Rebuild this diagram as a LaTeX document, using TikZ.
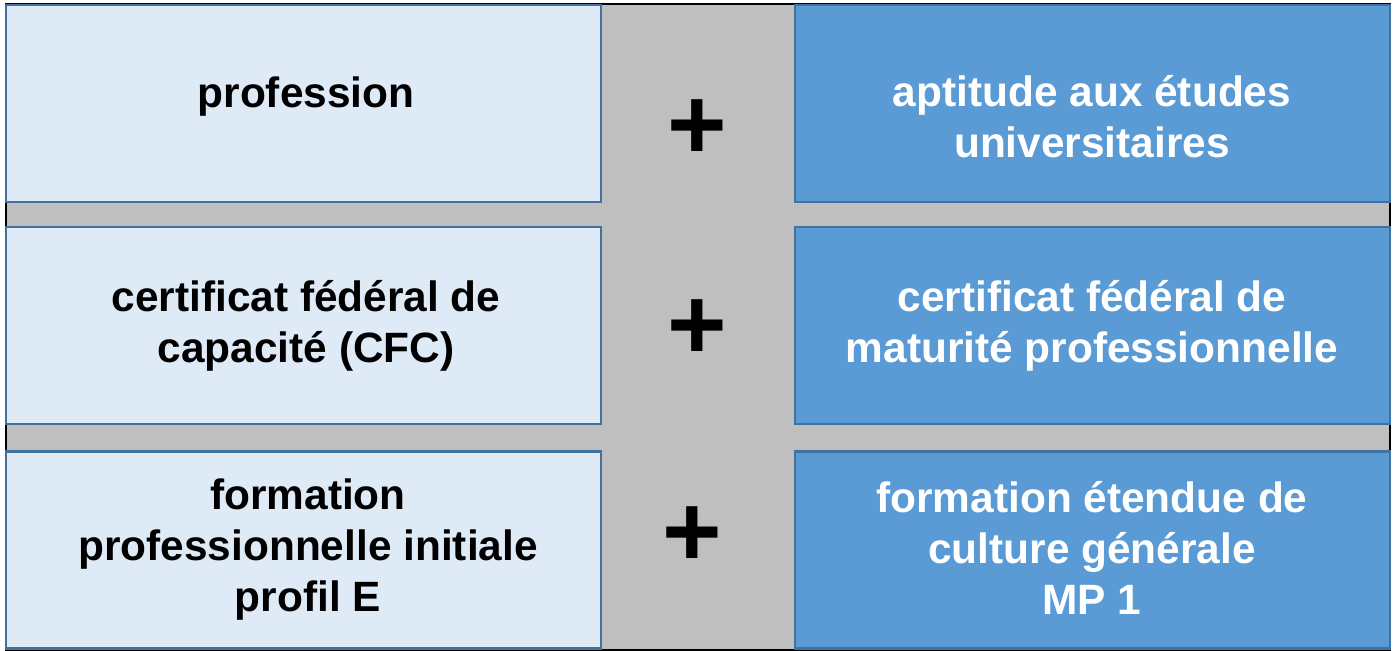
\documentclass[tikz,border=0pt]{standalone}
\usepackage{xcolor}
\usepackage{fontspec}
\setmainfont{Liberation Sans}

\definecolor{paleblue}{HTML}{DEEBF7}
\definecolor{midblue}{HTML}{5B9BD5}
\definecolor{edgeblue}{HTML}{41719C}
\definecolor{backgrey}{HTML}{BFBFBF}

\begin{document}
\begin{tikzpicture}[x=0.5pt,y=0.5pt,
    box/.style={rectangle,draw=edgeblue,line width=1.2pt,inner sep=0pt,outer sep=0pt,
                minimum width=297.5pt,minimum height=98.5pt},
    lbox/.style={box,fill=paleblue},
    rbox/.style={box,fill=midblue},
    word/.style={align=center,font=\bfseries\fontsize{21.2}{25.5}\selectfont},
    plus/.style={font=\bfseries\fontsize{51}{51}\selectfont,inner sep=0pt}]
                \useasboundingbox (0,0) rectangle (1397,650);
                \filldraw[fill=backgrey,draw=black,line width=1pt] (6,0) rectangle (1390,646);

                % left column
                \node[lbox] (prof) at (303.5,546.5) {};
                \node[lbox] (cfc) at (303.5,324.5) {};
                \node[lbox] (fpi) at (303.5,100) {};
                % right column
                \node[rbox] (apt) at (1092.5,546.5) {};
                \node[rbox] (mat) at (1092.5,324.5) {};
                \node[rbox] (cult) at (1092.5,100) {};

                \node[word] (tprof) at (306,553) {profession};
                \node[word] (tcfc) at (306,324) {certificat fédéral de\\capacité (CFC)};
                \node[word] (tfpi) at (308,100) {formation\\professionnelle initiale\\profil E};
                \node[word,white] (tapt) at (1092,533) {aptitude aux études\\universitaires};
                \node[word,white] (tmat) at (1092,324) {certificat fédéral de\\maturité professionnelle};
                \node[word,white] (tcult) at (1092,102) {formation étendue de\\culture générale\\MP 1};

                \node[plus] (p1) at (697,520) {+};
                \node[plus] (p2) at (697,320) {+};
                \node[plus] (p3) at (692,113) {+};
            \end{tikzpicture}
\end{document}
